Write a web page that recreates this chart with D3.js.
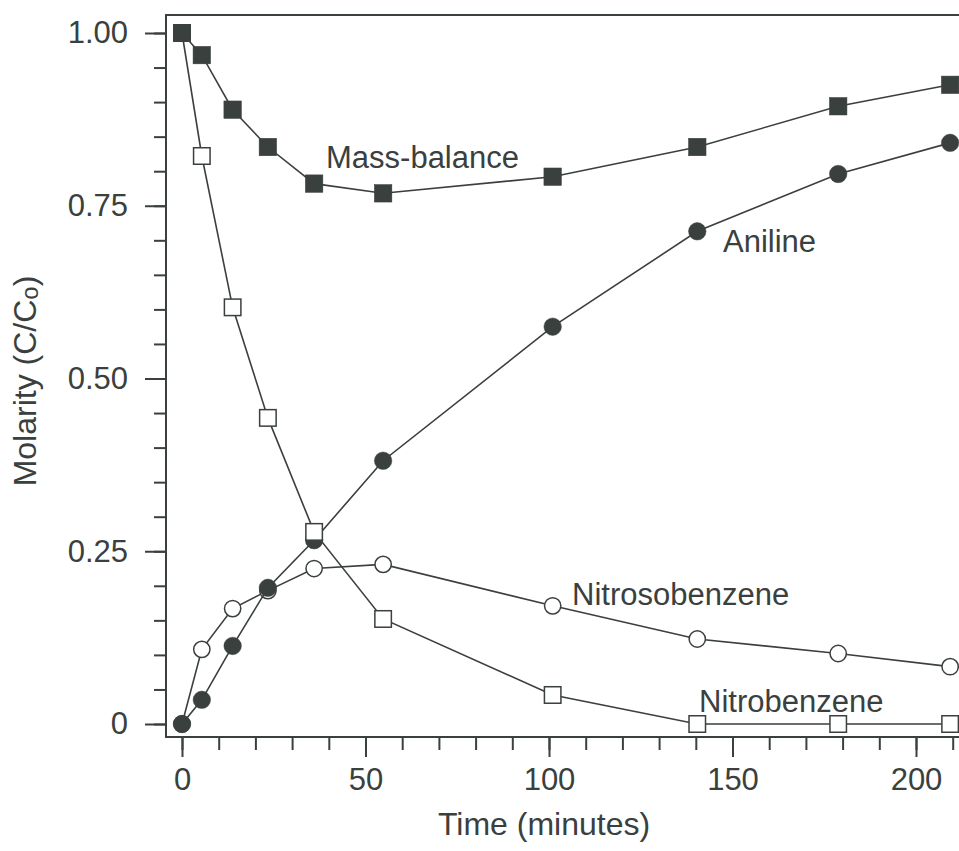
<!DOCTYPE html>
<html>
<head>
<meta charset="utf-8">
<script src="https://cdn.jsdelivr.net/npm/d3@7/dist/d3.min.js"></script>
<style>
  html, body { margin: 0; padding: 0; background: #ffffff; overflow: hidden; }
  svg { display: block; }
  text { font-family: "Liberation Sans", Arial, Helvetica, sans-serif; fill: #3a403e; }
</style>
</head>
<body>
<svg id="chart" width="959" height="851"></svg>
<script>
// Sampling times (minutes)
const times = [0, 5.4, 13.8, 23.4, 36, 54.8, 101, 140.4, 178.8, 209.3];

// Relative molar concentrations C/C0
const massBalance    = [1.00, 0.968, 0.889, 0.835, 0.782, 0.768, 0.792, 0.835, 0.894, 0.925];
const aniline        = [0.00, 0.035, 0.113, 0.197, 0.266, 0.381, 0.575, 0.713, 0.796, 0.841];
const nitrosobenzene = [0.00, 0.108, 0.167, 0.193, 0.225, 0.231, 0.171, 0.123, 0.102, 0.083];
const nitrobenzene   = [1.00, 0.822, 0.603, 0.443, 0.278, 0.152, 0.042, 0.00, 0.00, 0.00];

// Axis ticks
const xTicks = [0, 50, 100, 150, 200];
const xMinorTicks = d3.range(0, 211, 10);
const yTicks = [0, 0.25, 0.5, 0.75, 1.0];
const yTickLabels = ["0", "0.25", "0.50", "0.75", "1.00"];
const yMinorTicks = d3.range(0, 21).map(i => i * 0.05);

const ink = "#3a403e";
const svg = d3.select("#chart");

const frame = { left: 166, top: 15, bottom: 737, right: 990 };
const x = d3.scaleLinear().domain([0, 200]).range([182, 916]);
const y = d3.scaleLinear().domain([0, 1]).range([724, 33]);

// Plot frame (right edge runs off the page)
svg.append("path")
  .attr("d", `M${frame.right},${frame.top}H${frame.left}V${frame.bottom}H${frame.right}`)
  .attr("fill", "none")
  .attr("stroke", ink)
  .attr("stroke-width", 2);

// Minor ticks
const xMinor = svg.append("g")
  .attr("transform", `translate(0,${frame.bottom})`)
  .call(d3.axisBottom(x).tickValues(xMinorTicks).tickSize(13).tickFormat(""));
const yMinor = svg.append("g")
  .attr("transform", `translate(${frame.left},0)`)
  .call(d3.axisLeft(y).tickValues(yMinorTicks).tickSize(12).tickFormat(""));

// Major ticks with labels
const xAxis = svg.append("g")
  .attr("transform", `translate(0,${frame.bottom})`)
  .call(d3.axisBottom(x).tickValues(xTicks).tickSize(20).tickPadding(11).tickFormat(d3.format("d")));
const yAxis = svg.append("g")
  .attr("transform", `translate(${frame.left},0)`)
  .call(d3.axisLeft(y).tickValues(yTicks).tickSize(21).tickPadding(17)
        .tickFormat((d, i) => yTickLabels[i]));

[xMinor, yMinor, xAxis, yAxis].forEach(g => {
  g.select(".domain").remove();
  g.selectAll("line").attr("stroke", ink).attr("stroke-width", 2);
  g.selectAll("text").attr("fill", ink).style("font-size", "31px")
    .style("font-family", '"Liberation Sans", Arial, sans-serif');
});

// Axis titles
svg.append("text")
  .attr("x", 544).attr("y", 835)
  .attr("text-anchor", "middle")
  .style("font-size", "32px")
  .text("Time (minutes)");

const yTitle = svg.append("text")
  .attr("transform", "translate(36,381) rotate(-90)")
  .attr("text-anchor", "middle")
  .style("font-size", "32px");
yTitle.append("tspan").text("Molarity (C/C");
yTitle.append("tspan").text("o").style("font-size", "24px").attr("dy", 2);
yTitle.append("tspan").text(")").attr("dy", -2);

// Series: drawn bottom to top
const series = [
  { name: "Nitrosobenzene", values: nitrosobenzene, shape: "circle", filled: false },
  { name: "Aniline",        values: aniline,        shape: "circle", filled: true },
  { name: "Nitrobenzene",   values: nitrobenzene,   shape: "square", filled: false },
  { name: "Mass-balance",   values: massBalance,    shape: "square", filled: true }
];

const line = d3.line().x(d => x(d[0])).y(d => y(d[1]));
const size = 17.5;

series.forEach(s => {
  const pts = times.map((t, i) => [t, s.values[i]]);
  const g = svg.append("g");
  g.append("path")
    .attr("d", line(pts))
    .attr("fill", "none")
    .attr("stroke", ink)
    .attr("stroke-width", 1.6);
  if (s.shape === "circle") {
    g.selectAll("circle").data(pts).join("circle")
      .attr("cx", d => x(d[0])).attr("cy", d => y(d[1]))
      .attr("r", size / 2 - (s.filled ? 0 : 0.6))
      .attr("fill", s.filled ? ink : "#ffffff")
      .attr("stroke", ink).attr("stroke-width", s.filled ? 0.5 : 1.5);
  } else {
    const side = size - (s.filled ? 0 : 1);
    g.selectAll("rect").data(pts).join("rect")
      .attr("x", d => x(d[0]) - side / 2).attr("y", d => y(d[1]) - side / 2)
      .attr("width", side).attr("height", side)
      .attr("fill", s.filled ? ink : "#ffffff")
      .attr("stroke", ink).attr("stroke-width", s.filled ? 0.5 : 1.5);
  }
});

// Series labels
const labels = [
  { text: "Mass-balance",   x: 326, y: 168 },
  { text: "Aniline",        x: 723, y: 252 },
  { text: "Nitrosobenzene", x: 572, y: 605 },
  { text: "Nitrobenzene",   x: 699, y: 712 }
];
svg.selectAll("text.series-label").data(labels).join("text")
  .attr("class", "series-label")
  .attr("x", d => d.x).attr("y", d => d.y)
  .style("font-size", "31px")
  .text(d => d.text);
</script>
</body>
</html>
